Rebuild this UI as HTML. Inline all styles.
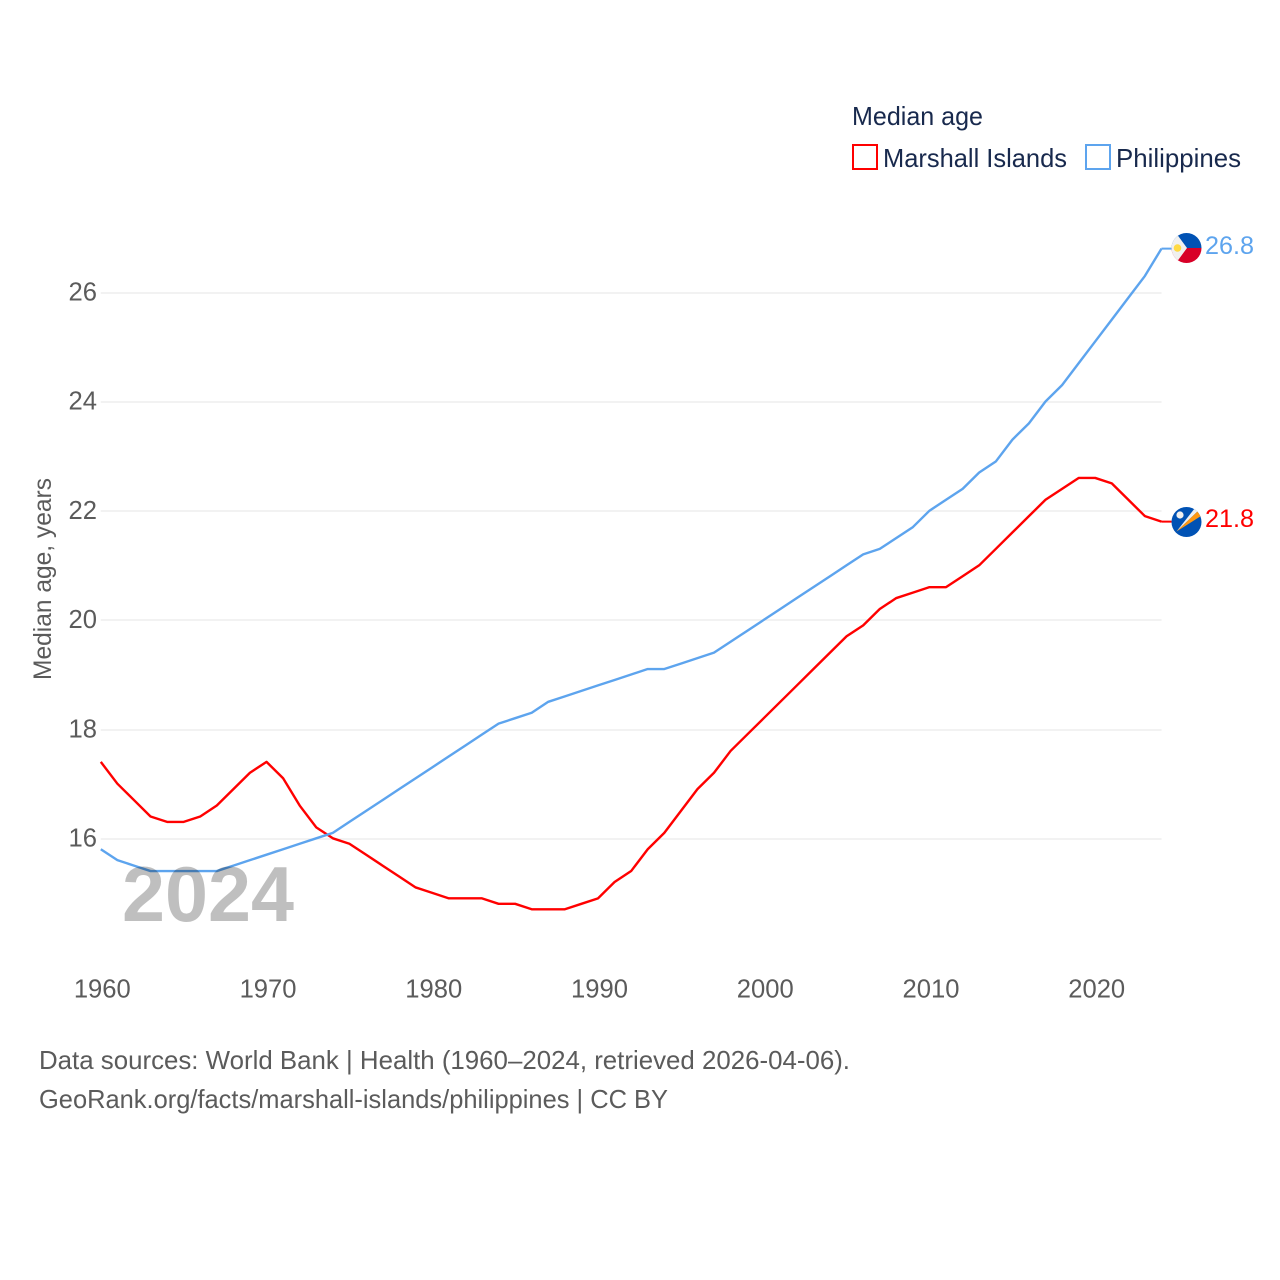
<!DOCTYPE html>
<html lang="en">
<head>
<meta charset="utf-8">
<title>Median age: Marshall Islands and Philippines</title>
<style>
html,body{margin:0;padding:0;background:#fff;width:1280px;height:1280px;overflow:hidden}
svg{display:block}
text{font-family:"Liberation Sans",sans-serif}
</style>
</head>
<body>
<svg id="chart" width="1280" height="1280" viewBox="0 0 1280 1280" xmlns="http://www.w3.org/2000/svg">
  <defs>
    <clipPath id="clip-ph"><circle cx="1186.5" cy="248" r="15"/></clipPath>
    <clipPath id="clip-mh"><circle cx="1186.5" cy="522" r="15"/></clipPath>
  </defs>
  <rect x="0" y="0" width="1280" height="1280" fill="#ffffff"/>

  <g id="grid"></g>
  <g id="yticks"></g>
  <g id="xticks"></g>
  <text transform="translate(51,680) rotate(-90)" font-size="25" fill="#5b5b5b" textLength="202" lengthAdjust="spacingAndGlyphs">Median age, years</text>

  <g id="series"></g>

  <text x="122" y="921" font-size="78" font-weight="700" fill="#000000" fill-opacity="0.25" textLength="172" lengthAdjust="spacingAndGlyphs">2024</text>

  <g clip-path="url(#clip-ph)">
    <rect x="1171" y="233" width="31" height="15" fill="#0052b4"/>
    <rect x="1171" y="248" width="31" height="15" fill="#d80027"/>
    <path d="M1171 233 L1171 263 L1176 263 L1187 248 L1176 233 Z" fill="#f0f0f0"/>
    <circle cx="1177.5" cy="248" r="3.8" fill="#ffda44"/>
  </g>
  <g clip-path="url(#clip-mh)">
    <rect x="1171" y="507" width="31" height="30" fill="#0052b4"/>
    <path d="M1176.5 531.5 L1195 508 L1198.5 510.5 Z" fill="#f0f0f0"/>
    <path d="M1176.5 531.5 L1198.5 510.5 L1201 516 Z" fill="#ff9811"/>
    <circle cx="1180" cy="515" r="3.6" fill="#f0f0f0"/>
  </g>

  <text x="1205" y="254" font-size="25" fill="#5da4ee" textLength="49" lengthAdjust="spacingAndGlyphs">26.8</text>
  <text x="1205" y="527" font-size="25" fill="#ff0000" textLength="49" lengthAdjust="spacingAndGlyphs">21.8</text>

  <g>
    <text x="852" y="125" font-size="25.6" fill="#18294d" textLength="131" lengthAdjust="spacingAndGlyphs">Median age</text>
    <rect x="853" y="145" width="24" height="24" fill="#ffffff" stroke="#ff0000" stroke-width="2"/>
    <text x="883" y="167" font-size="25.6" fill="#18294d" textLength="184" lengthAdjust="spacingAndGlyphs">Marshall Islands</text>
    <rect x="1086" y="145" width="24" height="24" fill="#ffffff" stroke="#5da4ee" stroke-width="2"/>
    <text x="1116" y="167" font-size="25.6" fill="#18294d" textLength="125" lengthAdjust="spacingAndGlyphs">Philippines</text>
  </g>

  <text x="39" y="1069" font-size="25.6" fill="#5b5b5b" textLength="811" lengthAdjust="spacingAndGlyphs">Data sources: World Bank | Health (1960–2024, retrieved 2026-04-06).</text>
  <text x="39" y="1108" font-size="25.6" fill="#5b5b5b" textLength="629" lengthAdjust="spacingAndGlyphs">GeoRank.org/facts/marshall-islands/philippines | CC BY</text>
</svg>
<script>
var startYear = 1960;
var xTickLabels = [1960, 1970, 1980, 1990, 2000, 2010, 2020];
var yTickLabels = [16, 18, 20, 22, 24, 26];
var marshallIslands = [17.4,17.0,16.7,16.4,16.3,16.3,16.4,16.6,16.9,17.2,17.4,17.1,16.6,16.2,16.0,15.9,15.7,15.5,15.3,15.1,15.0,14.9,14.9,14.9,14.8,14.8,14.7,14.7,14.7,14.8,14.9,15.2,15.4,15.8,16.1,16.5,16.9,17.2,17.6,17.9,18.2,18.5,18.8,19.1,19.4,19.7,19.9,20.2,20.4,20.5,20.6,20.6,20.8,21.0,21.3,21.6,21.9,22.2,22.4,22.6,22.6,22.5,22.2,21.9,21.8];
var philippines = [15.8,15.6,15.5,15.4,15.4,15.4,15.4,15.4,15.5,15.6,15.7,15.8,15.9,16.0,16.1,16.3,16.5,16.7,16.9,17.1,17.3,17.5,17.7,17.9,18.1,18.2,18.3,18.5,18.6,18.7,18.8,18.9,19.0,19.1,19.1,19.2,19.3,19.4,19.6,19.8,20.0,20.2,20.4,20.6,20.8,21.0,21.2,21.3,21.5,21.7,22.0,22.2,22.4,22.7,22.9,23.3,23.6,24.0,24.3,24.7,25.1,25.5,25.9,26.3,26.8];

var NS = 'http://www.w3.org/2000/svg';
function xScale(year) { return 100.8 + (year - 1960) * (1161.5 - 100.8) / 64; }
function yScale(value) { return 838.3 - (value - 16) * (838.3 - 292.3) / 10; }

var gridLayer = document.getElementById('grid');
var yLayer = document.getElementById('yticks');
var xLayer = document.getElementById('xticks');
var seriesLayer = document.getElementById('series');

yTickLabels.forEach(function (v) {
  var gy = Math.round(yScale(v) + 0.5);
  var line = document.createElementNS(NS, 'line');
  
  
  line.setAttribute('x1', xScale(1960));
  line.setAttribute('x2', xScale(2024));
  line.setAttribute('y1', gy);
  line.setAttribute('y2', gy);
  line.setAttribute('stroke', '#e9e9e9');
  line.setAttribute('stroke-width', '1.3');
  gridLayer.appendChild(line);

  var label = document.createElementNS(NS, 'text');
  
  
  label.setAttribute('x', '97');
  label.setAttribute('y', yScale(v) + 8.2);
  label.setAttribute('text-anchor', 'end');
  label.setAttribute('font-size', '25.6');
  label.setAttribute('fill', '#5b5b5b');
  label.textContent = v;
  yLayer.appendChild(label);
});

xTickLabels.forEach(function (y) {
  var label = document.createElementNS(NS, 'text');
  
  
  label.setAttribute('x', xScale(y) + 1.5);
  label.setAttribute('y', '997.5');
  label.setAttribute('text-anchor', 'middle');
  label.setAttribute('font-size', '25.6');
  label.setAttribute('fill', '#5b5b5b');
  label.textContent = y;
  xLayer.appendChild(label);
});

function buildPoints(values) {
  return values.map(function (v, i) {
    return xScale(startYear + i).toFixed(2) + ',' + yScale(v).toFixed(2);
  });
}

function drawSeries(values, color, name) {
  var lastX = xScale(startYear + values.length - 1);
  var lastY = yScale(values[values.length - 1]);

  var path = document.createElementNS(NS, 'polyline');
  
  
  path.setAttribute('points', buildPoints(values).join(' '));
  path.setAttribute('fill', 'none');
  path.setAttribute('stroke', color);
  path.setAttribute('stroke-width', '2.4');
  path.setAttribute('stroke-linejoin', 'round');
  seriesLayer.appendChild(path);

  var connector = document.createElementNS(NS, 'line');
  
  
  connector.setAttribute('x1', lastX);
  connector.setAttribute('y1', lastY);
  connector.setAttribute('x2', lastX + 10);
  connector.setAttribute('y2', lastY);
  connector.setAttribute('stroke', color);
  connector.setAttribute('stroke-width', '2');
  seriesLayer.appendChild(connector);
}

drawSeries(marshallIslands, '#ff0000', 'marshall-islands');
drawSeries(philippines, '#5da4ee', 'philippines');
</script>
</body>
</html>
